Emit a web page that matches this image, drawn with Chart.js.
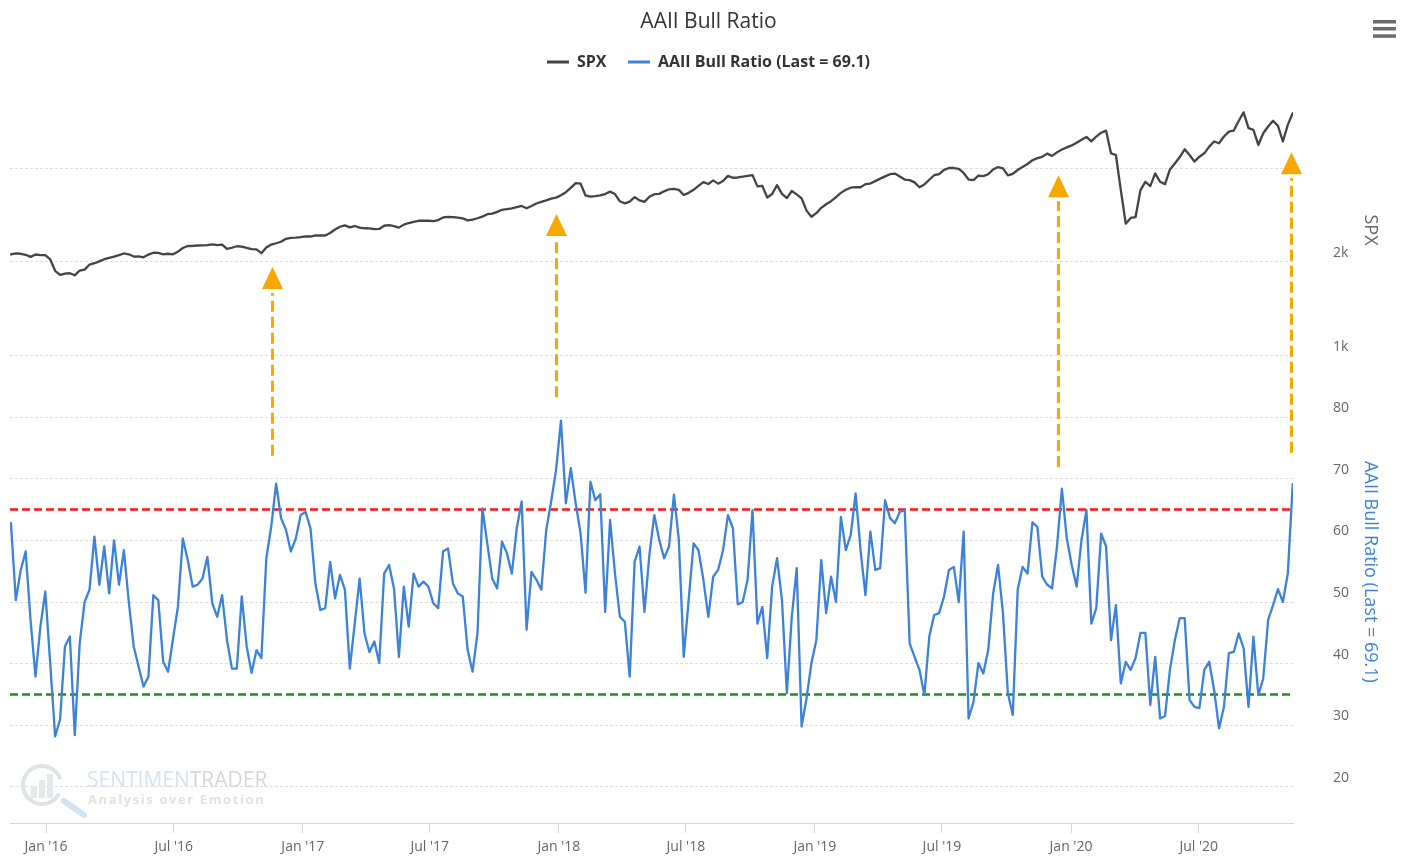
<!DOCTYPE html>
<html>
<head>
<meta charset="utf-8">
<script src="https://cdn.jsdelivr.net/npm/chart.js@4.4.0/dist/chart.umd.min.js"></script>
<style>
  html, body { margin: 0; padding: 0; background: #ffffff; }
  #wrap { width: 1407px; height: 856px; }
</style>
</head>
<body>
<div id="wrap"><canvas id="c" width="1407" height="856"></canvas></div>
<script>
// ---------------- DATA ----------------
const chartTitle = 'AAII Bull Ratio';
const spxLabel = 'SPX';
const aaiiLabel = 'AAII Bull Ratio (Last = 69.1)';

// weekly observations, first one on this date
const firstWeek = '2015-11-12';

const aaii = [
  62.8, 50.3, 55.2, 58.2, 47.0, 37.9, 46.0, 51.7, 40.0, 28.2,
  30.9, 42.8, 44.4, 28.4, 43.3, 50.0, 52.0, 60.6, 52.8, 59.0,
  51.4, 60.0, 52.8, 58.4, 50.0, 42.8, 39.5, 36.3, 37.9, 51.1,
  50.3, 40.3, 38.7, 44.0, 49.2, 60.3, 56.8, 52.5, 52.8, 53.8,
  57.3, 49.8, 47.6, 51.1, 43.8, 39.2, 39.2, 50.9, 42.8, 38.5,
  42.2, 40.9, 57.1, 62.2, 69.2, 63.6, 61.7, 58.2, 60.3, 64.1,
  64.6, 61.9, 53.0, 48.7, 49.0, 56.5, 50.6, 54.4, 52.0, 39.2,
  46.5, 53.8, 44.9, 41.9, 43.6, 40.1, 54.6, 56.0, 52.2, 41.1,
  52.5, 46.0, 54.6, 52.5, 53.3, 52.5, 49.8, 49.0, 58.2, 58.7,
  53.0, 51.4, 50.9, 42.2, 38.7, 44.9, 65.2, 59.5, 53.8, 52.2,
  59.8, 57.9, 54.6, 62.0, 66.3, 45.5, 54.9, 53.6, 52.0, 61.7,
  66.3, 71.4, 79.4, 66.0, 71.7, 66.0, 61.1, 51.5, 69.5, 66.5,
  67.5, 48.4, 63.3, 54.6, 47.6, 46.8, 37.9, 56.5, 59.0, 48.4,
  57.6, 64.1, 60.1, 57.1, 59.0, 67.4, 60.1, 41.1, 50.3, 59.5,
  58.4, 53.6, 47.6, 54.1, 55.2, 58.4, 64.1, 62.0, 49.6, 50.0,
  53.6, 64.9, 46.5, 49.2, 40.9, 52.5, 57.1, 50.3, 35.2, 47.6,
  55.5, 29.8, 34.4, 40.1, 43.8, 56.8, 48.2, 54.1, 50.0, 63.8,
  58.4, 60.9, 67.6, 58.4, 51.1, 61.4, 55.2, 55.5, 66.5, 63.6,
  62.8, 64.6, 64.9, 43.3, 41.1, 39.0, 34.9, 44.4, 47.9, 48.2,
  50.9, 55.2, 55.7, 50.0, 61.4, 31.1, 33.8, 40.1, 38.4, 42.2,
  51.4, 56.0, 48.2, 35.2, 31.7, 52.0, 55.7, 54.6, 62.9, 62.2,
  54.1, 52.8, 52.2, 59.0, 68.4, 60.3, 56.0, 52.5, 60.1, 64.9,
  46.5, 49.0, 61.1, 59.0, 43.8, 49.5, 36.8, 40.3, 39.0, 40.9,
  45.0, 45.0, 33.3, 41.1, 31.1, 31.5, 39.0, 43.8, 47.4, 47.4,
  34.1, 33.0, 32.8, 39.0, 40.3, 35.7, 29.5, 33.0, 41.7, 41.9,
  44.9, 42.5, 33.0, 44.4, 34.9, 37.6, 47.1, 49.5, 52.1, 50.0,
  54.6, 69.1
];

const spx = [
  2082, 2091, 2088, 2077, 2055, 2080, 2074, 2073, 2027, 1906,
  1863, 1876, 1880, 1858, 1909, 1919, 1973, 1987, 2007, 2030,
  2044, 2057, 2073, 2091, 2082, 2058, 2061, 2050, 2079, 2099,
  2098, 2082, 2088, 2082, 2110, 2149, 2171, 2171, 2176, 2177,
  2180, 2188, 2180, 2185, 2139, 2152, 2168, 2164, 2150, 2138,
  2135, 2094, 2156, 2186, 2200, 2216, 2247, 2257, 2260, 2265,
  2274, 2272, 2283, 2284, 2283, 2310, 2347, 2376, 2391, 2369,
  2384, 2367, 2360, 2359, 2351, 2353, 2387, 2394, 2382, 2367,
  2399, 2416, 2428, 2440, 2440, 2440, 2437, 2447, 2476, 2481,
  2479, 2474, 2465, 2445, 2452, 2467, 2484, 2510, 2517, 2535,
  2557, 2565, 2572, 2585, 2598, 2573, 2597, 2624, 2642, 2658,
  2676, 2687, 2712, 2745, 2791, 2841, 2837, 2710, 2698, 2703,
  2711, 2725, 2751, 2725, 2648, 2626, 2645, 2692, 2658, 2642,
  2697, 2724, 2727, 2754, 2776, 2780, 2770, 2715, 2738, 2770,
  2812, 2852, 2832, 2871, 2836, 2864, 2919, 2899, 2902, 2911,
  2919, 2927, 2807, 2813, 2689, 2725, 2820, 2727, 2682, 2758,
  2722, 2680, 2548, 2483, 2521, 2578, 2616, 2649, 2693, 2738,
  2771, 2793, 2798, 2798, 2831, 2837, 2863, 2890, 2914, 2937,
  2944, 2913, 2880, 2874, 2850, 2798, 2828, 2878, 2926, 2938,
  2984, 3003, 3003, 2994, 2950, 2880, 2875, 2921, 2917, 2937,
  2987, 3013, 2999, 2925, 2940, 2982, 3015, 3046, 3086, 3108,
  3123, 3157, 3132, 3170, 3201, 3223, 3244, 3272, 3304, 3335,
  3288, 3339, 3380, 3402, 3160, 3142, 2767, 2409, 2470, 2480,
  2767, 2856, 2810, 2945, 2856, 2831, 2988, 3052, 3120, 3203,
  3142, 3071, 3124, 3160, 3231, 3286, 3267, 3339, 3392, 3403,
  3505, 3597, 3428, 3411, 3249, 3374, 3446, 3507, 3453, 3286,
  3464, 3589
];

const upperBand = 65;
const lowerBand = 35;

const xTickDates = ['2016-01-01', '2016-07-01', '2017-01-01', '2017-07-01', '2018-01-01',
                    '2018-07-01', '2019-01-01', '2019-07-01', '2020-01-01', '2020-07-01'];
const xTickLabels = ["Jan '16", "Jul '16", "Jan '17", "Jul '17", "Jan '18",
                     "Jul '18", "Jan '19", "Jul '19", "Jan '20", "Jul '20"];
const spxTicks = [1000, 2000, 3000];
const spxTickLabels = ['1k', '2k', ''];
const aaiiTicks = [20, 30, 40, 50, 60, 70, 80];

// signal arrows: date, start value on AAII axis, tip value on SPX axis
const arrowDates = ['2016-11-18', '2017-12-28', '2019-12-13', '2020-11-10'];
const arrowFrom = [73.7, 83.2, 71.9, 74.2];
const arrowTo = [1947, 2511, 2926, 3170];

// axis ranges
const xMin = Date.parse('2015-11-10T16:00:00Z');
const xMax = Date.parse('2020-11-12T10:00:00Z');
const spxMin = 676.6, spxMax = 3942.4;
const aaiiMin = 14.16, aaiiMax = 85.03;

// ---------------- BUILD ----------------
const DAY = 86400000;
const weeks = aaii.map((_, i) => Date.parse(firstWeek) + i * 7 * DAY);

const FONT = "'Open Sans', 'Noto Sans', sans-serif";
Chart.defaults.font.family = FONT;

const ARROW = '#f6a800';
const BLUE = '#3b82d8';

const decor = {
  id: 'decor',
  beforeDatasetsDraw(chart) {
    const ctx = chart.ctx;
    ctx.save();
    // watermark logo
    ctx.strokeStyle = '#dfe3e6';
    ctx.lineWidth = 4;
    ctx.beginPath();
    ctx.arc(42, 785, 19, 0.15 * Math.PI, 1.9 * Math.PI);
    ctx.stroke();
    ctx.fillStyle = '#e6e9ec';
    ctx.fillRect(31, 786, 6, 12);
    ctx.fillRect(39, 780, 6, 18);
    ctx.fillRect(47, 774, 6, 24);
    ctx.strokeStyle = '#d3e2ee';
    ctx.lineWidth = 6;
    ctx.lineCap = 'round';
    ctx.beginPath();
    ctx.moveTo(64, 801);
    ctx.lineTo(84, 815);
    ctx.stroke();
    // watermark text
    ctx.textBaseline = 'alphabetic';
    ctx.textAlign = 'left';
    ctx.font = "21px " + FONT;
    ctx.fillStyle = '#d3e3f0';
    ctx.fillText('SENTIMEN', 87, 787);
    const w = ctx.measureText('SENTIMEN').width;
    ctx.fillStyle = '#d6d6d6';
    ctx.fillText('TRADER', 87 + w, 787);
    ctx.font = "bold 13px " + FONT;
    ctx.fillStyle = '#e2e2e2';
    if ('letterSpacing' in ctx) ctx.letterSpacing = '1.6px';
    ctx.fillText('Analysis over Emotion', 88, 804);
    if ('letterSpacing' in ctx) ctx.letterSpacing = '0px';
    ctx.restore();
  },
  afterDatasetsDraw(chart) {
    const ctx = chart.ctx;
    const xs = chart.scales.x, ys = chart.scales.ySpx, ya = chart.scales.yAaii;
    ctx.save();
    arrowDates.forEach((d, i) => {
      const x = Math.round(xs.getPixelForValue(Date.parse(d))) + 0.5;
      const y0 = ya.getPixelForValue(arrowFrom[i]);
      const tip = ys.getPixelForValue(arrowTo[i]);
      const base = tip + 22;
      ctx.strokeStyle = ARROW;
      ctx.lineWidth = 3;
      ctx.setLineDash([11, 5]);
      ctx.beginPath();
      ctx.moveTo(x, y0);
      ctx.lineTo(x, base + 4);
      ctx.stroke();
      ctx.setLineDash([]);
      ctx.fillStyle = ARROW;
      ctx.beginPath();
      ctx.moveTo(x, tip);
      ctx.lineTo(x - 10.5, base);
      ctx.lineTo(x + 10.5, base);
      ctx.closePath();
      ctx.fill();
    });
    ctx.restore();
  },
  afterDraw(chart) {
    const ctx = chart.ctx;
    ctx.save();
    // axis titles (rotated, reading downward)
    ctx.textAlign = 'center';
    ctx.textBaseline = 'middle';
    ctx.translate(1370, 230);
    ctx.rotate(Math.PI / 2);
    ctx.font = "18px " + FONT;
    ctx.fillStyle = '#666666';
    ctx.fillText(spxLabel, 0, 0);
    ctx.restore();
    ctx.save();
    ctx.textAlign = 'center';
    ctx.textBaseline = 'middle';
    ctx.translate(1370, 572);
    ctx.rotate(Math.PI / 2);
    ctx.font = "18px " + FONT;
    ctx.fillStyle = BLUE;
    ctx.fillText(aaiiLabel, 0, 0);
    ctx.restore();
    // context menu icon
    ctx.save();
    ctx.fillStyle = '#6b6b6b';
    [20, 27, 34.3].forEach(y => ctx.fillRect(1373, y, 23, 3.5));
    ctx.restore();
  }
};

new Chart(document.getElementById('c'), {
  type: 'line',
  data: {
    datasets: [
      {
        label: spxLabel,
        data: weeks.map((t, i) => ({ x: t, y: spx[i] })),
        yAxisID: 'ySpx',
        borderColor: '#434348',
        backgroundColor: '#434348',
        borderWidth: 2.3,
        pointRadius: 0,
        tension: 0,
        borderJoinStyle: 'round',
        borderCapStyle: 'round'
      },
      {
        label: aaiiLabel,
        data: weeks.map((t, i) => ({ x: t, y: aaii[i] })),
        yAxisID: 'yAaii',
        borderColor: BLUE,
        backgroundColor: BLUE,
        borderWidth: 2.3,
        pointRadius: 0,
        tension: 0,
        borderJoinStyle: 'round',
        borderCapStyle: 'round'
      },
      {
        label: 'upper',
        data: [{ x: xMin, y: upperBand }, { x: xMax, y: upperBand }],
        yAxisID: 'yAaii',
        borderColor: '#ff1414',
        borderWidth: 2.5,
        borderDash: [8, 4],
        pointRadius: 0
      },
      {
        label: 'lower',
        data: [{ x: xMin, y: lowerBand }, { x: xMax, y: lowerBand }],
        yAxisID: 'yAaii',
        borderColor: '#1d8f1d',
        borderWidth: 2.5,
        borderDash: [8, 4],
        pointRadius: 0
      }
    ]
  },
  options: {
    responsive: false,
    animation: false,
    devicePixelRatio: 1,
    layout: { padding: { left: 10, right: 0, top: 0, bottom: 0 } },
    plugins: {
      title: {
        display: true,
        text: chartTitle,
        color: '#333333',
        font: { size: 21, weight: 'normal', lineHeight: 1 },
        padding: { top: 11.5, bottom: 0 }
      },
      legend: {
        display: true,
        labels: {
          color: '#333333',
          font: { size: 16, weight: 'bold' },
          boxWidth: 22,
          boxHeight: 3,
          padding: 21.5,
          generateLabels(chart) {
            const items = Chart.defaults.plugins.legend.labels.generateLabels(chart);
            return items.filter(it => it.datasetIndex < 2)
              .map(it => Object.assign({}, it, { fillStyle: it.strokeStyle, lineWidth: 0, lineDash: [] }));
          }
        }
      },
      tooltip: { enabled: false }
    },
    scales: {
      x: {
        type: 'linear',
        min: xMin,
        max: xMax,
        afterBuildTicks: s => { s.ticks = xTickDates.map(d => ({ value: Date.parse(d) })); },
        ticks: {
          autoSkip: false,
          maxRotation: 0,
          color: '#666666',
          font: { size: 14 },
          padding: 6,
          callback: (v, i) => xTickLabels[i]
        },
        grid: {
          display: true,
          drawOnChartArea: false,
          drawTicks: true,
          tickLength: 10,
          tickColor: '#ccd6eb',
          color: '#ccd6eb'
        },
        border: { display: true, color: '#ccd6eb', width: 1 },
        afterFit: s => { s.height = 33; }
      },
      ySpx: {
        type: 'linear',
        position: 'right',
        stack: 'right',
        stackWeight: 306,
        min: spxMin,
        max: spxMax,
        afterBuildTicks: s => { s.ticks = spxTicks.map(v => ({ value: v })); },
        ticks: {
          color: '#666666',
          font: { size: 14 },
          padding: 0,
          labelOffset: -9,
          callback: (v, i) => spxTickLabels[i]
        },
        grid: { color: '#dedede', lineWidth: 1, drawTicks: true, tickLength: 40, tickColor: 'rgba(0,0,0,0)' },
        border: { display: false, dash: [3, 2] },
        afterFit: s => { s.width = 114; }
      },
      yAaii: {
        type: 'linear',
        position: 'right',
        stack: 'right',
        stackWeight: 437,
        min: aaiiMin,
        max: aaiiMax,
        afterBuildTicks: s => { s.ticks = aaiiTicks.map(v => ({ value: v })); },
        ticks: {
          color: '#666666',
          font: { size: 14 },
          padding: 0,
          labelOffset: -9,
          callback: v => String(v)
        },
        grid: { color: '#dedede', lineWidth: 1, drawTicks: true, tickLength: 40, tickColor: 'rgba(0,0,0,0)' },
        border: { display: false, dash: [3, 2] },
        afterFit: s => { s.width = 114; }
      }
    }
  },
  plugins: [decor]
});
</script>
</body>
</html>
